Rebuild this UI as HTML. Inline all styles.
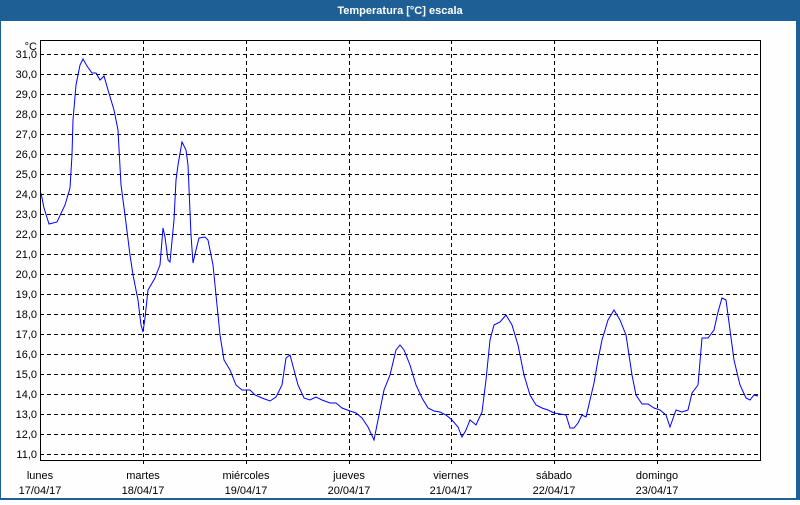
<!DOCTYPE html>
<html><head><meta charset="utf-8"><style>
body{margin:0;width:800px;height:500px;overflow:hidden;background:#fdfefd;font-family:"Liberation Sans",sans-serif;}
</style></head><body>
<svg width="800" height="500" xmlns="http://www.w3.org/2000/svg" font-family="Liberation Sans, sans-serif" font-size="11">
<rect x="0" y="0" width="800" height="500" fill="#1e6096"/>
<rect x="1" y="21" width="795" height="477" fill="#fdfefd"/>
<text x="400" y="14" fill="#fff" font-weight="bold" text-anchor="middle">Temperatura [°C] escala</text>
<g stroke="#000" stroke-dasharray="4,3" stroke-width="1">
<line x1="40" x2="760" y1="54.5" y2="54.5"/><line x1="40" x2="760" y1="74.5" y2="74.5"/><line x1="40" x2="760" y1="94.5" y2="94.5"/><line x1="40" x2="760" y1="114.5" y2="114.5"/><line x1="40" x2="760" y1="134.5" y2="134.5"/><line x1="40" x2="760" y1="154.5" y2="154.5"/><line x1="40" x2="760" y1="174.5" y2="174.5"/><line x1="40" x2="760" y1="194.5" y2="194.5"/><line x1="40" x2="760" y1="214.5" y2="214.5"/><line x1="40" x2="760" y1="234.5" y2="234.5"/><line x1="40" x2="760" y1="254.5" y2="254.5"/><line x1="40" x2="760" y1="274.5" y2="274.5"/><line x1="40" x2="760" y1="294.5" y2="294.5"/><line x1="40" x2="760" y1="314.5" y2="314.5"/><line x1="40" x2="760" y1="334.5" y2="334.5"/><line x1="40" x2="760" y1="354.5" y2="354.5"/><line x1="40" x2="760" y1="374.5" y2="374.5"/><line x1="40" x2="760" y1="394.5" y2="394.5"/><line x1="40" x2="760" y1="414.5" y2="414.5"/><line x1="40" x2="760" y1="434.5" y2="434.5"/><line x1="40" x2="760" y1="454.5" y2="454.5"/>
<line x1="143.5" x2="143.5" y1="40" y2="460"/><line x1="246.5" x2="246.5" y1="40" y2="460"/><line x1="349.5" x2="349.5" y1="40" y2="460"/><line x1="451.5" x2="451.5" y1="40" y2="460"/><line x1="554.5" x2="554.5" y1="40" y2="460"/><line x1="657.5" x2="657.5" y1="40" y2="460"/>
</g>
<rect x="40.5" y="40.5" width="720" height="420" fill="none" stroke="#000"/>
<g stroke="#000"><line x1="143.5" x2="143.5" y1="460" y2="464"/><line x1="246.5" x2="246.5" y1="460" y2="464"/><line x1="349.5" x2="349.5" y1="460" y2="464"/><line x1="451.5" x2="451.5" y1="460" y2="464"/><line x1="554.5" x2="554.5" y1="460" y2="464"/><line x1="657.5" x2="657.5" y1="460" y2="464"/></g>
<g fill="#000" text-anchor="end">
<text x="37" y="50">°C</text>
<text x="37" y="58">31,0</text><text x="37" y="78">30,0</text><text x="37" y="98">29,0</text><text x="37" y="118">28,0</text><text x="37" y="138">27,0</text><text x="37" y="158">26,0</text><text x="37" y="178">25,0</text><text x="37" y="198">24,0</text><text x="37" y="218">23,0</text><text x="37" y="238">22,0</text><text x="37" y="258">21,0</text><text x="37" y="278">20,0</text><text x="37" y="298">19,0</text><text x="37" y="318">18,0</text><text x="37" y="338">17,0</text><text x="37" y="358">16,0</text><text x="37" y="378">15,0</text><text x="37" y="398">14,0</text><text x="37" y="418">13,0</text><text x="37" y="438">12,0</text><text x="37" y="458">11,0</text>
</g>
<g fill="#000" text-anchor="middle">
<text x="40" y="479">lunes</text><text x="40" y="494">17/04/17</text>
<text x="143" y="479">martes</text><text x="143" y="494">18/04/17</text>
<text x="246" y="479">miércoles</text><text x="246" y="494">19/04/17</text>
<text x="349" y="479">jueves</text><text x="349" y="494">20/04/17</text>
<text x="451" y="479">viernes</text><text x="451" y="494">21/04/17</text>
<text x="554" y="479">sábado</text><text x="554" y="494">22/04/17</text>
<text x="657" y="479">domingo</text><text x="657" y="494">23/04/17</text>
</g>
<polyline fill="none" stroke="#0000ff" stroke-width="1" points="41,193 44,208 49,224 57,222 65,205 70,188 72,155 73,120 76,85 80,65 83,59 87,66 92,73 96,73 100,80 104,76 108,90 114,110 118,130 121,185 125,215 130,255 133,275 138,300 141,325 143,332 145,318 148,290 155,278 158,270 160,265 163,228 165,237 168,260 170,262 174,220 176,180 178,165 182,142 186,150 188,165 191,235 193,263 196,250 199,238 205,237 208,240 213,265 216,295 220,335 224,360 230,370 236,385 242,390 250,390 255,395 262,398 270,401 276,397 282,385 286,358 290,355 294,370 298,385 304,398 310,400 316,397 322,400 330,403 336,403 342,408 350,411 356,413 362,418 368,427 374,440 378,420 384,390 390,375 396,350 400,345 404,350 410,365 416,385 422,398 428,408 434,411 440,412 446,415 452,420 458,427 462,437 466,430 470,420 476,425 482,412 486,380 490,340 494,325 500,322 506,315 512,325 518,345 524,375 530,395 536,405 542,408 548,410 554,413 560,414 566,415 570,428 574,428 578,423 582,415 586,417 590,400 594,383 598,360 602,340 608,320 614,310 620,320 626,335 632,375 636,395 642,404 648,404 654,408 660,410 666,415 670,427 676,410 682,412 688,410 692,393 698,385 702,338 708,338 714,330 718,312 722,298 726,300 730,330 734,360 740,385 746,398 750,400 754,395 758,396"/>
</svg>
</body></html>
